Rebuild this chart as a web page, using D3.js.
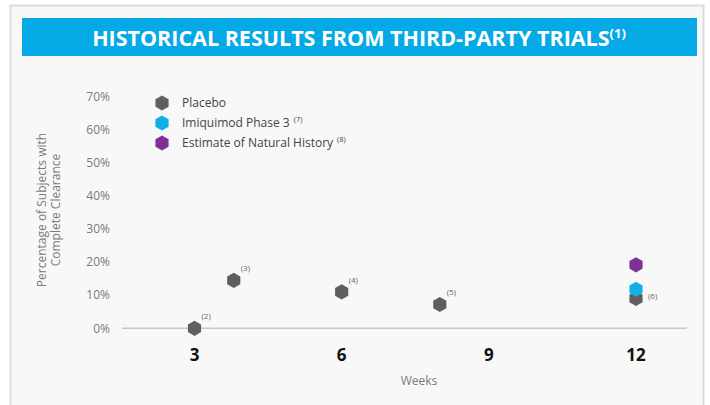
<!DOCTYPE html>
<html>
<head>
<meta charset="utf-8">
<script src="https://cdn.jsdelivr.net/npm/d3@7"></script>
<style>
  html, body { margin: 0; padding: 0; background: #fff; }
  svg { display: block; font-family: "Open Sans", "Noto Sans", sans-serif; }
</style>
</head>
<body>
<div id="chart"></div>
<script>
// data
const weekTicks = [3, 6, 9, 12];
const percentTicks = [0, 0.1, 0.2, 0.3, 0.4, 0.5, 0.6, 0.7];

const placeboWeeks  = [3, 3.8, 6, 8, 12];
const placeboValues = [0, 0.145, 0.11, 0.072, 0.09];
const placeboRefs   = ["(2)", "(3)", "(4)", "(5)", "(6)"];

const imiquimodWeeks  = [12];
const imiquimodValues = [0.118];

const naturalWeeks  = [12];
const naturalValues = [0.192];

const seriesNames = ["Placebo", "Imiquimod Phase 3", "Estimate of Natural History"];
const seriesRefs  = ["", "(7)", "(8)"];
const seriesColors = ["#5f5f5f", "#12aee8", "#7e2f98"];

const width = 710, height = 405;

const svg = d3.select("#chart").append("svg")
    .attr("width", width)
    .attr("height", height);

// frame
svg.append("rect")
    .attr("x", 10.5).attr("y", 5.5)
    .attr("width", 693).attr("height", 410)
    .attr("fill", "#f8f8f8")
    .attr("stroke", "#dcdcdc")
    .attr("stroke-width", 2);

// title bar
svg.append("rect")
    .attr("x", 22).attr("y", 18)
    .attr("width", 675).attr("height", 38)
    .attr("fill", "#05a9e6");

const title = svg.append("text")
    .attr("x", 359).attr("y", 38)
    .attr("dy", "0.35em")
    .attr("text-anchor", "middle")
    .attr("fill", "#fff")
    .attr("font-size", "21.5px")
    .attr("font-weight", "700");
title.append("tspan").text("HISTORICAL RESULTS FROM THIRD-PARTY TRIALS");
title.append("tspan")
    .attr("font-size", "13px")
    .attr("dy", "-0.55em")
    .text("(1)");

const x = d3.scaleLinear().domain([3, 12]).range([194.5, 636]);
const y = d3.scaleLinear().domain([0, 0.7]).range([328.3, 96.7]);

// baseline
svg.append("line")
    .attr("x1", 122).attr("x2", 687)
    .attr("y1", y(0)).attr("y2", y(0))
    .attr("stroke", "#c8c8c8")
    .attr("stroke-width", 1.5);

// y tick labels
svg.append("g").selectAll("text")
    .data(percentTicks)
    .join("text")
    .attr("x", 110)
    .attr("y", d => y(d))
    .attr("dy", "0.35em")
    .attr("text-anchor", "end")
    .attr("fill", "#7a7a7a")
    .attr("font-size", "12px")
    .text(d3.format(".0%"));

// x tick labels
svg.append("g").selectAll("text")
    .data(weekTicks)
    .join("text")
    .attr("x", d => x(d))
    .attr("y", 355)
    .attr("dy", "0.35em")
    .attr("text-anchor", "middle")
    .attr("fill", "#111")
    .attr("font-size", "17px")
    .attr("font-weight", "700")
    .text(d => d);

// axis titles
svg.append("text")
    .attr("x", 419).attr("y", 381)
    .attr("dy", "0.35em")
    .attr("text-anchor", "middle")
    .attr("fill", "#7a7a7a")
    .attr("font-size", "12px")
    .text("Weeks");

const yTitle = svg.append("text")
    .attr("transform", "translate(49,210) rotate(-90)")
    .attr("text-anchor", "middle")
    .attr("fill", "#7a7a7a")
    .attr("font-size", "12px");
yTitle.append("tspan").attr("x", 0).attr("dy", "-0.25em").text("Percentage of Subjects with");
yTitle.append("tspan").attr("x", 0).attr("dy", "1.2em").text("Complete Clearance");

// pointy-top hexagon
function hexPath(r) {
    const pts = d3.range(6).map(i => {
        const a = Math.PI / 3 * i - Math.PI / 2;
        return [r * Math.cos(a), r * Math.sin(a)];
    });
    return d3.line()(pts) + "Z";
}
const hex = hexPath(7.6);

function drawSeries(weeks, values, color) {
    svg.append("g").selectAll("path")
        .data(weeks.map((w, i) => ({ w, v: values[i] })))
        .join("path")
        .attr("d", hex)
        .attr("transform", d => `translate(${x(d.w)},${y(d.v)})`)
        .attr("fill", color);
}

drawSeries(placeboWeeks, placeboValues, seriesColors[0]);
drawSeries(imiquimodWeeks, imiquimodValues, seriesColors[1]);
drawSeries(naturalWeeks, naturalValues, seriesColors[2]);

// reference markers on placebo points
svg.append("g").selectAll("text")
    .data(placeboWeeks.map((w, i) => ({ w, v: placeboValues[i], ref: placeboRefs[i] })))
    .join("text")
    .attr("x", d => x(d.w) + (d.ref === "(6)" ? 12 : 7))
    .attr("y", d => y(d.v) - (d.ref === "(6)" ? 2 : 12))
    .attr("dy", "0.35em")
    .attr("fill", "#666")
    .attr("font-size", "8px")
    .text(d => d.ref);

// legend
const legend = svg.append("g");
const item = legend.selectAll("g")
    .data(seriesNames)
    .join("g")
    .attr("transform", (d, i) => `translate(162,${103 + i * 20})`);

item.append("path")
    .attr("d", hex)
    .attr("fill", (d, i) => seriesColors[i]);

const label = item.append("text")
    .attr("x", 20)
    .attr("dy", "0.35em")
    .attr("fill", "#444")
    .attr("font-size", "12px");
label.append("tspan").text(d => d);
label.append("tspan")
    .attr("font-size", "7.5px")
    .attr("dx", 4)
    .attr("dy", "-0.7em")
    .text((d, i) => seriesRefs[i]);
</script>
</body>
</html>
